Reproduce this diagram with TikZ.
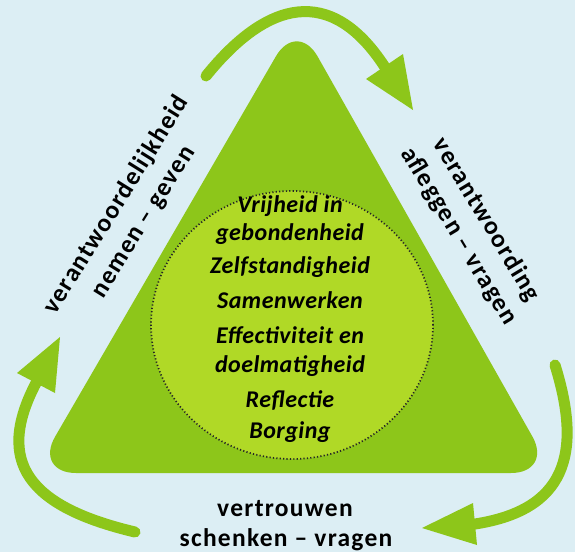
\documentclass[tikz,border=0pt]{standalone}
\usepackage{fontspec}
\setmainfont{Carlito}
\newfontfamily\labelfont[LetterSpace=5]{Carlito}
\newfontfamily\corefont[LetterSpace=2]{Carlito}
\usetikzlibrary{shapes.geometric}
\definecolor{bgblue}{RGB}{220,238,244}
\definecolor{trigreen}{RGB}{141,198,26}
\definecolor{circgreen}{RGB}{176,217,38}
\definecolor{arrowgreen}{RGB}{141,198,26}
\begin{document}
\begin{tikzpicture}[x=1pt,y=-1pt,
  arrowline/.style={draw=arrowgreen, line width=11pt, line cap=round},
  arrowhead/.style={fill=arrowgreen},
  innertext/.style={font=\corefont\fontsize{24}{28}\selectfont\bfseries\itshape, anchor=base, inner sep=0pt},
  outertext/.style={font=\labelfont\fontsize{25.5}{32}\selectfont\bfseries, align=center, inner sep=0pt}]
\fill[bgblue] (0,0) rectangle (575,552);
\useasboundingbox (0,0) rectangle (575,552);
% triangle
\fill[trigreen, rounded corners=42pt] (297,20) -- (553,473) -- (34,473) -- cycle;
% core circle
\node[ellipse, minimum width=282pt, minimum height=268pt, inner sep=0pt,
      fill=circgreen, draw=black!85, line width=1.7pt, dash pattern=on 1.2pt off 2.2pt] (core) at (292,325) {};
% inner texts
\node[innertext] (l1) at (290,212) {Vrijheid in};
\node[innertext] (l2) at (290,240) {gebondenheid};
\node[innertext] (l3) at (290,273) {Zelfstandigheid};
\node[innertext] (l4) at (290,308) {Samenwerken};
\node[innertext] (l5) at (290,343) {Effectiviteit en};
\node[innertext] (l6) at (290,372) {doelmatigheid};
\node[innertext] (l7) at (290,407) {Reflectie};
\node[innertext] (l8) at (290,438) {Borging};
% outer labels
\node[outertext, rotate=58] (lefttxt) at (130,213.5) {verantwoordelijkheid\\nemen – geven};
\node[outertext, rotate=-59] (righttxt) at (472.5,228) {verantwoording\\afleggen – vragen};
\node[outertext, anchor=base] (bot1) at (285,516) {vertrouwen};
\node[outertext, anchor=base] (bot2) at (286,546) {schenken – vragen};
% arrow coordinates
\coordinate (a1s) at (206,76);
\coordinate (a1e) at (384.5,66.5);
\coordinate (a1t) at (413,110);
\coordinate (a1b1) at (366,79);
\coordinate (a1b2) at (403,54);
\coordinate (a2s) at (555,365);
\coordinate (a2e) at (475,524);
\coordinate (a2t) at (422,528);
\coordinate (a2b1) at (473,503);
\coordinate (a2b2) at (477,545);
\coordinate (a3s) at (135,532);
\coordinate (a3e) at (36,383);
\coordinate (a3t) at (60,337);
\coordinate (a3b1) at (17,373);
\coordinate (a3b2) at (55,393);
% arrows
\draw[arrowline] (a1s) .. controls (267,0.4) and (330.6,-16) .. (a1e);
\fill[arrowhead] (a1t) -- (a1b1) -- (a1b2) -- cycle;
\draw[arrowline] (a2s) .. controls (583,455) and (565,510) .. (a2e);
\fill[arrowhead] (a2t) -- (a2b1) -- (a2b2) -- cycle;
\draw[arrowline] (a3s) .. controls (28.3,506.7) and (-5.4,462.2) .. (a3e);
\fill[arrowhead] (a3t) -- (a3b1) -- (a3b2) -- cycle;
\end{tikzpicture}
\end{document}
